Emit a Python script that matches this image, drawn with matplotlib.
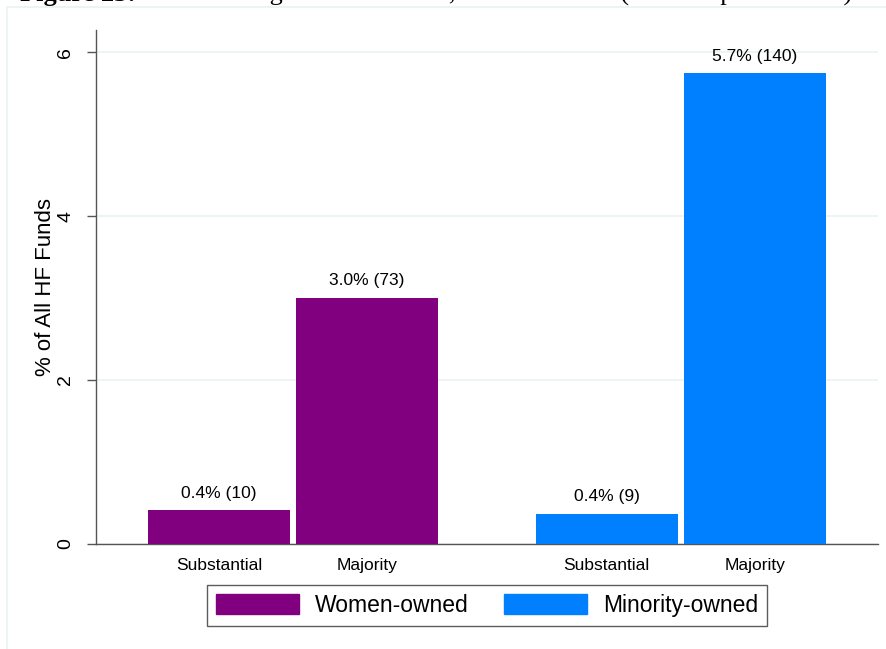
import matplotlib
matplotlib.use("Agg")
import matplotlib.pyplot as plt
from matplotlib.patches import Patch, Rectangle

plt.rcParams['font.family'] = ['Liberation Sans', 'DejaVu Sans']

groups = ["Women-owned", "Minority-owned"]
categories = ["Substantial", "Majority"]
values = {"Women-owned": [0.41, 3.0], "Minority-owned": [0.37, 5.74]}
labels = {"Women-owned": ["0.4% (10)", "3.0% (73)"],
          "Minority-owned": ["0.4% (9)", "5.7% (140)"]}
colors = {"Women-owned": "#800080", "Minority-owned": "#0080FF"}
yticks = [0, 2, 4, 6]
caption_bold = "Figure 23:"
caption_rest = " Diverse hedge funds out of 2,436 total funds (totals in parentheses)."

W, H = 886, 649
fig = plt.figure(figsize=(W / 100, H / 100), dpi=100)

# faint graph-region border (Stata style)
fig.add_artist(Rectangle((7 / W, -0.1), 1.2, (H - 7) / H + 0.1, transform=fig.transFigure,
                         fill=False, edgecolor="#eaf2f3", linewidth=1.2))
# partially cropped caption at top
cap_y = 1.0 - 1 / H
t1 = fig.text(20 / W, cap_y, caption_bold, family="Liberation Serif",
              fontsize=19, fontweight="bold", va="baseline", ha="left")
fig.canvas.draw()
bb = t1.get_window_extent()
fig.text(bb.x1 / W, cap_y, caption_rest, family="Liberation Serif",
         fontsize=19, va="baseline", ha="left")

ax = fig.add_axes([96 / W, 1 - 544 / H, (878 - 96) / W, (544 - 30) / H])
ax.set_facecolor("white")

positions = {"Women-owned": [0.0, 1.0], "Minority-owned": [2.62, 3.62]}
bw = 0.96
for g in groups:
    ax.bar(positions[g], values[g], width=bw, color=colors[g], zorder=3)
    for x, v, lab in zip(positions[g], values[g], labels[g]):
        ax.annotate(lab, (x, v), xytext=(0, 7), textcoords="offset points",
                    ha="center", va="bottom", fontsize=12.5, zorder=4)
    for x, c in zip(positions[g], categories):
        ax.annotate(c, (x, 0), xytext=(0, -10), textcoords="offset points",
                    ha="center", va="top", fontsize=12.5)

ax.set_xlim(-0.831, 4.453)
ax.set_ylim(0, 6.27)
ax.set_yticks(yticks)
ax.set_yticklabels([str(t) for t in yticks], rotation=90, va="center", fontsize=14)
ax.tick_params(axis="y", length=6.5, width=1, color="#555555", pad=9)
ax.set_xticks([])
ax.yaxis.grid(True, color="#eaf2f3", linewidth=1.2, zorder=0)
ax.set_ylabel("% of All HF Funds", fontsize=16, labelpad=1)
for s in ["top", "right"]:
    ax.spines[s].set_visible(False)
ax.spines["left"].set_color("#555555")
ax.spines["bottom"].set_color("#555555")
ax.spines["left"].set_linewidth(1.0)
ax.spines["bottom"].set_linewidth(1.0)

handles = [Patch(facecolor=colors[g], edgecolor=colors[g]) for g in groups]
leg = fig.legend(handles, groups, loc="center",
                 bbox_to_anchor=((206 + 768) / 2 / W, 1 - (587 + 624) / 2 / H),
                 ncol=2, frameon=True, fancybox=False, fontsize=16.5,
                 handlelength=3.65, handleheight=1.0, columnspacing=1.5,
                 handletextpad=0.7, borderpad=0.4, borderaxespad=0)
leg.get_frame().set_edgecolor("#333333")
leg.get_frame().set_linewidth(1.0)

fig.savefig("out.png", dpi=100)
